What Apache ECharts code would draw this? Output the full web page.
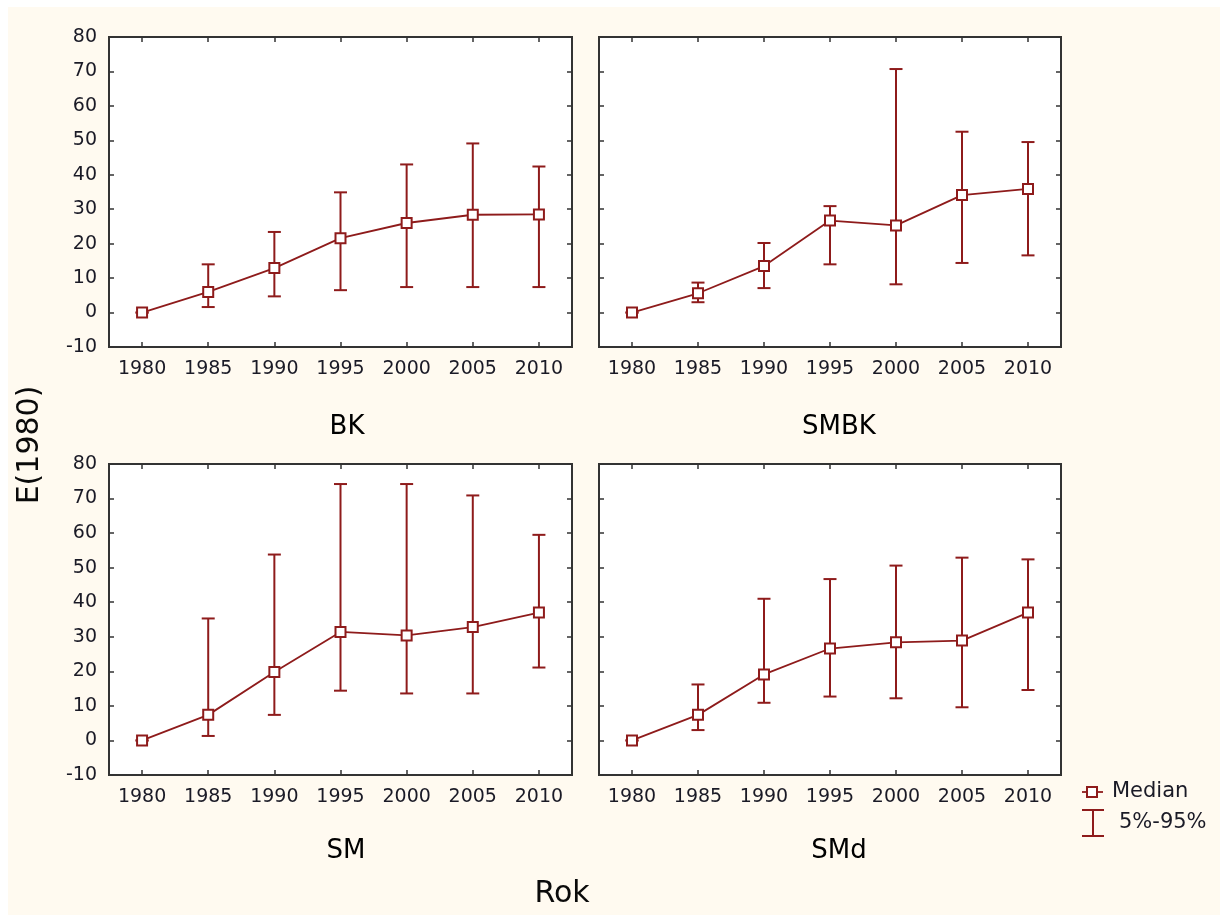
<!DOCTYPE html>
<html>
<head>
<meta charset="utf-8">
<script src="https://cdn.jsdelivr.net/npm/echarts@6/dist/echarts.min.js"></script>
<style>html,body{margin:0;padding:0;background:#fff;}#c{width:1220px;height:917px;}</style>
</head>
<body>
<div id="c"></div>
<script>
const years = ['1980', '1985', '1990', '1995', '2000', '2005', '2010'];
const yTicks = { min: -10, max: 80, interval: 10 };
const panelNames = ['BK', 'SMBK', 'SM', 'SMd'];

const bkMedian = [0, 6.0, 12.9, 21.6, 26.0, 28.4, 28.5];
const bkLow    = [0, 1.6, 4.7, 6.5, 7.4, 7.4, 7.4];
const bkHigh   = [0, 14.0, 23.4, 34.9, 43.0, 49.1, 42.4];

const smbkMedian = [0, 5.6, 13.5, 26.7, 25.3, 34.1, 35.9];
const smbkLow    = [0, 3.0, 7.1, 14.0, 8.2, 14.4, 16.6];
const smbkHigh   = [0, 8.7, 20.2, 30.9, 70.7, 52.5, 49.5];

const smMedian = [0, 7.4, 19.8, 31.4, 30.4, 32.8, 37.0];
const smLow    = [0, 1.3, 7.4, 14.4, 13.6, 13.6, 21.1];
const smHigh   = [0, 35.3, 53.8, 74.2, 74.2, 70.9, 59.5];

const smdMedian = [0, 7.4, 19.1, 26.6, 28.4, 28.9, 37.0];
const smdLow    = [0, 3.0, 10.9, 12.7, 12.2, 9.6, 14.6];
const smdHigh   = [0, 16.2, 41.0, 46.7, 50.6, 52.9, 52.4];

const panels = [
  { median: bkMedian, low: bkLow, high: bkHigh },
  { median: smbkMedian, low: smbkLow, high: smbkHigh },
  { median: smMedian, low: smLow, high: smHigh },
  { median: smdMedian, low: smdLow, high: smdHigh }
];

const C = '#8E1B1B';
const AX = '#333333';
const TXT = '#1a1a26';
const FONT = 'DejaVu Sans';

const gridBoxes = [
  { left: 109, top: 37, width: 463, height: 310 },
  { left: 599, top: 37, width: 462, height: 310 },
  { left: 109, top: 464, width: 463, height: 311 },
  { left: 599, top: 464, width: 462, height: 311 }
];
const titlePos = [[347, 427], [839, 427], [346, 851], [839, 851]];

const grid = [], xAxis = [], yAxis = [], series = [];
const tick = { inside: true, length: 5, lineStyle: { color: AX, width: 1.5 } };

gridBoxes.forEach((b, g) => {
  grid.push(Object.assign({ show: true, borderColor: AX, borderWidth: 2, backgroundColor: '#fff' }, b));
  xAxis.push({
    type: 'category', gridIndex: g, data: years, boundaryGap: true, position: 'bottom',
    axisLine: { show: false, onZero: false }, axisTick: Object.assign({ show: true, alignWithLabel: true }, tick),
    axisLabel: { fontSize: 19, fontFamily: FONT, color: TXT, margin: 13 },
    splitLine: { show: false }
  });
  xAxis.push({
    type: 'category', gridIndex: g, data: years, boundaryGap: true, position: 'top',
    axisLine: { show: false, onZero: false }, axisTick: Object.assign({ show: true, alignWithLabel: true }, tick),
    axisLabel: { show: false }, splitLine: { show: false }
  });
  const showY = (g % 2 === 0);
  yAxis.push({
    type: 'value', gridIndex: g, position: 'left', min: yTicks.min, max: yTicks.max, interval: yTicks.interval,
    axisLine: { show: false, onZero: false }, axisTick: Object.assign({ show: true }, tick),
    axisLabel: { show: showY, fontSize: 19, fontFamily: FONT, color: TXT, margin: 12 },
    splitLine: { show: false }
  });
  yAxis.push({
    type: 'value', gridIndex: g, position: 'right', min: yTicks.min, max: yTicks.max, interval: yTicks.interval,
    axisLine: { show: false, onZero: false }, axisTick: Object.assign({ show: true }, tick), axisLabel: { show: false }, splitLine: { show: false }
  });

  const p = panels[g];
  series.push({
    type: 'custom', xAxisIndex: 2 * g, yAxisIndex: 2 * g, z: 2, silent: true,
    data: years.map((y, i) => [i, p.low[i], p.high[i]]),
    encode: { x: 0, y: [1, 2] },
    renderItem: function (params, api) {
      const x = api.value(0);
      const lo = api.coord([x, api.value(1)]);
      const hi = api.coord([x, api.value(2)]);
      const hw = 6.5;
      const st = { stroke: C, lineWidth: 2 };
      return {
        type: 'group', children: [
          { type: 'line', shape: { x1: lo[0], y1: lo[1], x2: hi[0], y2: hi[1] }, style: st },
          { type: 'line', shape: { x1: lo[0] - hw, y1: lo[1], x2: lo[0] + hw, y2: lo[1] }, style: st },
          { type: 'line', shape: { x1: hi[0] - hw, y1: hi[1], x2: hi[0] + hw, y2: hi[1] }, style: st }
        ]
      };
    }
  });
  series.push({
    type: 'line', xAxisIndex: 2 * g, yAxisIndex: 2 * g, z: 5, silent: true,
    data: p.median,
    symbol: 'rect', symbolSize: 10,
    itemStyle: { color: '#fff', borderColor: C, borderWidth: 2 },
    lineStyle: { color: C, width: 1.8 }
  });
});

const graphic = [
  { type: 'rect', shape: { x: 0, y: 0, width: 1220, height: 7 }, style: { fill: '#fff' }, silent: true },
  { type: 'rect', shape: { x: 0, y: 0, width: 8, height: 917 }, style: { fill: '#fff' }, silent: true },
  { type: 'rect', shape: { x: 0, y: 915, width: 1220, height: 2 }, style: { fill: '#fff' }, silent: true },
  { type: 'text', x: 30, y: 445, rotation: Math.PI / 2,
    style: { text: 'E(1980)', font: '30px ' + FONT, fill: '#0a0a0a', align: 'center', verticalAlign: 'middle' } },
  { type: 'text', x: 562, y: 894,
    style: { text: 'Rok', font: '30px ' + FONT, fill: '#0a0a0a', align: 'center', verticalAlign: 'middle' } },
  // legend
  { type: 'line', shape: { x1: 1082, y1: 792, x2: 1103, y2: 792 }, style: { stroke: C, lineWidth: 1.8 } },
  { type: 'rect', shape: { x: 1087, y: 787, width: 10, height: 10 }, style: { fill: '#fff', stroke: C, lineWidth: 2 } },
  { type: 'text', x: 1112, y: 792, style: { text: 'Median', font: '21px ' + FONT, fill: TXT, align: 'left', verticalAlign: 'middle' } },
  { type: 'line', shape: { x1: 1093, y1: 810, x2: 1093, y2: 836 }, style: { stroke: C, lineWidth: 2 } },
  { type: 'line', shape: { x1: 1082, y1: 810, x2: 1104, y2: 810 }, style: { stroke: C, lineWidth: 2 } },
  { type: 'line', shape: { x1: 1082, y1: 836, x2: 1104, y2: 836 }, style: { stroke: C, lineWidth: 2 } },
  { type: 'text', x: 1119, y: 823, style: { text: '5%-95%', font: '21px ' + FONT, fill: TXT, align: 'left', verticalAlign: 'middle' } }
];
panelNames.forEach((n, i) => {
  graphic.push({ type: 'text', x: titlePos[i][0], y: titlePos[i][1],
    style: { text: n, font: '26px ' + FONT, fill: '#000', align: 'center', verticalAlign: 'middle' } });
});

const chart = echarts.init(document.getElementById('c'), null, { renderer: 'canvas' });
chart.setOption({
  backgroundColor: '#FFFAF0',
  animation: false,
  grid, xAxis, yAxis, series, graphic
});
</script>
</body>
</html>
